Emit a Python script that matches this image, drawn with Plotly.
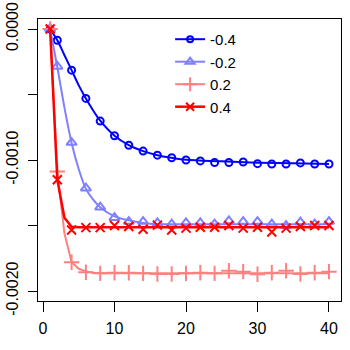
import plotly.graph_objects as go

# series labels and colours
labels = ["-0.4", "-0.2", "0.2", "0.4"]
colors = ["#0000FF", "#8080FF", "#FF8080", "#FF0000"]
symbols = ["circle-open", "triangle-up-open", "cross-thin-open", "x-thin-open"]
msizes = [7, 9, 11, 9]

# observed points (every other iteration)
x_pts = [1, 2, 4, 6, 8, 10, 12, 14, 16, 18, 20, 22, 24, 26, 28, 30, 32, 34, 36, 38, 40]
pts_m04 = [0, -0.000086, -0.000314, -0.00053, -0.000703, -0.000815, -0.000887, -0.000932,
           -0.000963, -0.000983, -0.001, -0.001007, -0.001019, -0.001019, -0.001015,
           -0.001028, -0.00103, -0.00103, -0.001022, -0.00103, -0.00103]
pts_m02 = [0, -0.000286, -0.000867, -0.001215, -0.00136, -0.00144, -0.00147, -0.00147,
           -0.00148, -0.00149, -0.00148, -0.00148, -0.00149, -0.001465, -0.00147,
           -0.00147, -0.00149, -0.0015, -0.001475, -0.00149, -0.00147]
pts_p02 = [0, -0.001088, -0.00178, -0.001857, -0.001865, -0.00186, -0.00186, -0.001865,
           -0.00187, -0.00187, -0.001865, -0.00186, -0.001865, -0.001845, -0.001852,
           -0.001872, -0.00186, -0.001845, -0.00187, -0.00186, -0.001852]
pts_p04 = [0, -0.00115, -0.001534, -0.001516, -0.001516, -0.0015, -0.001508, -0.001528,
           -0.001497, -0.001534, -0.00152, -0.001513, -0.001513, -0.0015, -0.00152,
           -0.001513, -0.00155, -0.00152, -0.001508, -0.0015, -0.0015]

# fitted curves
x_fit = [1, 2, 3, 4, 5, 6, 7, 8, 10, 12, 14, 16, 18, 20, 25, 30, 35, 40]
fit_m04 = [0, -0.000086, -0.0002, -0.000314, -0.00043, -0.00053, -0.00062, -0.0007,
           -0.000815, -0.000887, -0.000932, -0.000963, -0.000983, -0.000998, -0.00101,
           -0.00102, -0.001025, -0.00103]
fit_m02 = [0, -0.00029, -0.0006, -0.00087, -0.00107, -0.00122, -0.0013, -0.00136,
           -0.00143, -0.00146, -0.00148, -0.00149, -0.00149, -0.00149, -0.00149,
           -0.00149, -0.00149, -0.00149]
fit_p02 = [0, -0.00109, -0.00156, -0.00178, -0.00183, -0.00185, -0.00186, -0.001865,
           -0.001865, -0.001865, -0.001865, -0.001865, -0.001865, -0.001865, -0.001865,
           -0.001865, -0.001865, -0.001865]
fit_p04 = [0, -0.00115, -0.00144, -0.00151, -0.001513, -0.001513, -0.001513, -0.001513,
           -0.001513, -0.001513, -0.001513, -0.001513, -0.001513, -0.001513, -0.001513,
           -0.001513, -0.001513, -0.001513]

pts = [pts_m04, pts_m02, pts_p02, pts_p04]
fits = [fit_m04, fit_m02, fit_p02, fit_p04]
lwidths = [2, 2, 2, 2.5]
shapes = ["spline", "spline", "linear", "linear"]

y_tickvals = [0, -0.0005, -0.001, -0.0015, -0.002]
y_ticktext = ["0.0000", "", "-0.0010", "", "-0.0020"]
x_tickvals = [0, 10, 20, 30, 40]

fig = go.Figure()
for i in range(4):
    fig.add_trace(go.Scatter(x=x_fit, y=fits[i], mode="lines", line=dict(color=colors[i], width=lwidths[i]),
                             line_shape=shapes[i], showlegend=False))
    fig.add_trace(go.Scatter(x=x_pts, y=pts[i], mode="markers", showlegend=False,
                             marker=dict(symbol=symbols[i], size=msizes[i], color=colors[i],
                                         line=dict(color=colors[i], width=2))))
# legend entries
for i in range(4):
    fig.add_trace(go.Scatter(x=[None], y=[None], mode="lines+markers", name=labels[i],
                             line=dict(color=colors[i], width=lwidths[i]),
                             marker=dict(symbol=symbols[i], size=msizes[i] - 1, color=colors[i],
                                         line=dict(color=colors[i], width=2))))

fig.update_layout(
    width=350, height=350,
    margin=dict(l=38, r=9, t=19, b=49),
    plot_bgcolor="white", paper_bgcolor="white",
    font=dict(family="Liberation Sans, Arial", size=16, color="black"),
    legend=dict(x=0.436, y=0.986, xanchor="left", yanchor="top", bgcolor="rgba(0,0,0,0)",
                font=dict(size=15), tracegroupgap=0, itemwidth=30),
    xaxis=dict(range=[-0.7, 41.68], tickvals=x_tickvals, showgrid=False, zeroline=False,
               showline=True, mirror=True, linecolor="black", linewidth=1, automargin=False,
               ticks="outside", ticklen=10, tickcolor="black", ticklabelstandoff=3,
               ticklabeloverflow="allow"),
    yaxis=dict(range=[-0.002076, 0.0000763], tickvals=y_tickvals, ticktext=y_ticktext,
               tickangle=-90, showgrid=False, zeroline=False, automargin=False,
               showline=True, mirror=True, linecolor="black", linewidth=1,
               ticks="outside", ticklen=9, tickcolor="black", ticklabelstandoff=4,
               ticklabeloverflow="allow"),
)

# drop the default page margin so the 350px figure fills the window
fig.write_html("out.html", config={"displayModeBar": False},
               post_script="document.body.style.margin = '0';")
